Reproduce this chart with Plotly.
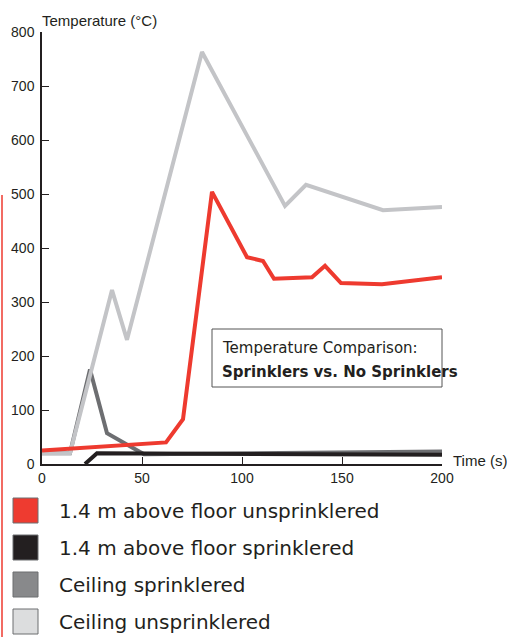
import plotly.graph_objects as go

# Ceiling, no sprinklers
ceil_unspr_t = [0, 14, 35, 42.5, 80, 121.5, 132, 170.5, 200]
ceil_unspr_T = [20, 20, 322, 230, 763, 478, 517, 470, 476]

# 1.4 m above floor, no sprinklers
floor_unspr_t = [0, 62, 70.5, 85, 102.5, 110.5, 116, 135, 141.5, 149.5, 170, 200]
floor_unspr_T = [25, 40, 83, 504, 383, 376, 343, 346, 367, 335, 333, 346]

# Ceiling, sprinklered
ceil_spr_t = [0, 14, 24, 32.5, 51, 200]
ceil_spr_T = [20, 20, 175, 57, 18, 23]

# 1.4 m above floor, sprinklered
floor_spr_t = [21.5, 27.5, 200]
floor_spr_T = [0, 20, 17]

legend_names = ['1.4 m above floor unsprinklered', '1.4 m above floor sprinklered',
                'Ceiling sprinklered', 'Ceiling unsprinklered']
legend_colors = ['#ee3b30', '#231f20', '#88898b', '#dcddde']

x_ticks = [0, 50, 100, 150, 200]
y_ticks = [0, 100, 200, 300, 400, 500, 600, 700, 800]

# plot area in pixels: x 42..442, y 32..464
L, R, T, B = 42, 442, 32, 464
def px(x):
    return (x - L) / (R - L)
def py(y):
    return (B - y) / (B - T)

fig = go.Figure()
fig.add_trace(go.Scatter(x=ceil_spr_t, y=ceil_spr_T, mode='lines',
                         line=dict(color='#6d6e71', width=4), cliponaxis=False))
fig.add_trace(go.Scatter(x=floor_spr_t, y=floor_spr_T, mode='lines',
                         line=dict(color='#231f20', width=4), cliponaxis=False))
fig.add_trace(go.Scatter(x=ceil_unspr_t, y=ceil_unspr_T, mode='lines',
                         line=dict(color='#c3c4c7', width=4), cliponaxis=False))
fig.add_trace(go.Scatter(x=floor_unspr_t, y=floor_unspr_T, mode='lines',
                         line=dict(color='#ee3a2f', width=4), cliponaxis=False))

axis_font = dict(family='Liberation Sans', size=14, color='#231f20')

shapes = []
annotations = []

# comparison box
shapes.append(dict(type='rect', xref='paper', yref='paper',
                   x0=px(212), x1=px(442), y0=py(387), y1=py(329),
                   line=dict(color='#555555', width=1), fillcolor='white', layer='above'))
annotations.append(dict(xref='paper', yref='paper', x=px(220), y=py(348),
                        xanchor='left', yanchor='middle', showarrow=False,
                        text='Temperature Comparison:',
                        font=dict(family='DejaVu Sans', size=15, color='#231f20')))
annotations.append(dict(xref='paper', yref='paper', x=px(220), y=py(372),
                        xanchor='left', yanchor='middle', showarrow=False,
                        text='<b>Sprinklers vs. No Sprinklers</b>',
                        font=dict(family='DejaVu Sans', size=15, color='#231f20')))

# axis titles
annotations.append(dict(xref='paper', yref='paper', x=px(40), y=py(20),
                        xanchor='left', yanchor='middle', showarrow=False,
                        text='Temperature (°C)',
                        font=dict(family='Liberation Sans', size=15, color='#231f20')))
annotations.append(dict(xref='paper', yref='paper', x=px(451), y=py(460),
                        xanchor='left', yanchor='middle', showarrow=False,
                        text='Time (s)',
                        font=dict(family='Liberation Sans', size=15, color='#231f20')))

# legend drawn by hand
for i, (name, col) in enumerate(zip(legend_names, legend_colors)):
    top = 498 + 37 * i
    shapes.append(dict(type='rect', xref='paper', yref='paper',
                       x0=px(13), x1=px(38), y0=py(top + 25), y1=py(top),
                       line=dict(color='#6d6e71', width=1), fillcolor=col))
    annotations.append(dict(xref='paper', yref='paper', x=px(57), y=py(top + 13),
                            xanchor='left', yanchor='middle', showarrow=False,
                            text=name,
                            font=dict(family='DejaVu Sans', size=20, color='#231f20')))

# thin red rule at left edge
shapes.append(dict(type='line', xref='paper', yref='paper',
                   x0=px(2), x1=px(2), y0=py(195), y1=py(640),
                   line=dict(color='#ee3a2f', width=1.5)))

fig.update_layout(
    width=507, height=637,
    margin=dict(l=L, r=507 - R, t=T, b=637 - B),
    paper_bgcolor='white', plot_bgcolor='white',
    showlegend=False,
    shapes=shapes, annotations=annotations,
    xaxis=dict(range=[0, 200], tickvals=x_ticks, showgrid=False, zeroline=False,
               showline=True, linecolor='#231f20', linewidth=1.5,
               ticks='inside', ticklen=7, tickcolor='#231f20', tickwidth=1,
               tickfont=axis_font),
    yaxis=dict(range=[0, 800], tickvals=y_ticks, showgrid=False, zeroline=False,
               showline=True, linecolor='#231f20', linewidth=1.5,
               ticks='inside', ticklen=7, tickcolor='#231f20', tickwidth=1,
               tickfont=axis_font, ticklabelstandoff=3),
)

# the page body has a default 8px margin, drop it so the chart sits at 0,0
fig.write_html("out.html", config={'displayModeBar': False},
               post_script="document.body.style.margin='0';")
